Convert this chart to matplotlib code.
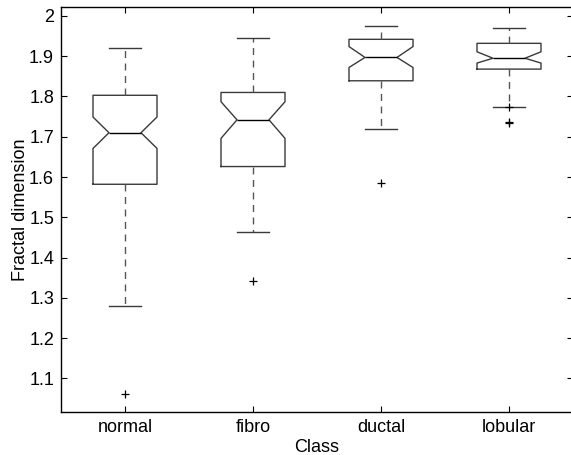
import matplotlib
matplotlib.use("Agg")
import matplotlib.pyplot as plt

plt.rcParams['font.family'] = ['Liberation Sans', 'DejaVu Sans']

# Valores (cuartiles, mediana, muescas, bigotes, atipicos)
clases = ['normal', 'fibro', 'ductal', 'lobular']
medianas = [1.710, 1.742, 1.897, 1.895]
q1 = [1.582, 1.626, 1.839, 1.868]
q3 = [1.803, 1.810, 1.942, 1.932]
ci_bajo = [1.671, 1.696, 1.872, 1.883]
ci_alto = [1.749, 1.787, 1.924, 1.911]
bigote_bajo = [1.279, 1.463, 1.719, 1.775]
bigote_alto = [1.921, 1.945, 1.976, 1.971]
atipicos = [[1.061], [1.341], [1.584], [1.774, 1.737, 1.735]]

stats = []
for i in range(len(clases)):
    stats.append({'label': clases[i], 'med': medianas[i], 'q1': q1[i], 'q3': q3[i],
                  'cilo': ci_bajo[i], 'cihi': ci_alto[i],
                  'whislo': bigote_bajo[i], 'whishi': bigote_alto[i],
                  'fliers': atipicos[i]})

fig = plt.figure(figsize=(5.71, 4.55), dpi=100)
ax = fig.add_axes([61 / 571, 1 - 412 / 455, 512 / 571, (412 - 6.7) / 455])

ax.bxp(stats, positions=[1, 2, 3, 4], widths=0.5, shownotches=True,
       boxprops=dict(color='#3a3a3a', linewidth=1.0),
       medianprops=dict(color='black', linewidth=1.0),
       whiskerprops=dict(color='#555555', linestyle=(0, (5, 4)), linewidth=1.0),
       capprops=dict(color='#3a3a3a', linewidth=1.0),
       flierprops=dict(marker='+', markeredgecolor='black', markersize=6,
                       linestyle='none', markeredgewidth=0.9))

ax.set_xlim(0.5, 4.5)
ax.set_ylim(1.0164, 2.023)
ax.set_yticks([1.1, 1.2, 1.3, 1.4, 1.5, 1.6, 1.7, 1.8, 1.9, 2.0])
ax.set_yticklabels(['1.1', '1.2', '1.3', '1.4', '1.5', '1.6', '1.7', '1.8', '1.9', '2'])
ax.set_xticks([1, 2, 3, 4])
ax.set_xticklabels(clases)
ax.tick_params(direction='in', length=4, width=0.8, top=True, right=True,
               labelsize=13, pad=5)
for s in ax.spines.values():
    s.set_linewidth(1.0)

ax.set_xlabel('Class', fontsize=13, labelpad=2)
ax.set_ylabel('Fractal dimension', fontsize=13, labelpad=0)

fig.savefig('out.png', dpi=100)
